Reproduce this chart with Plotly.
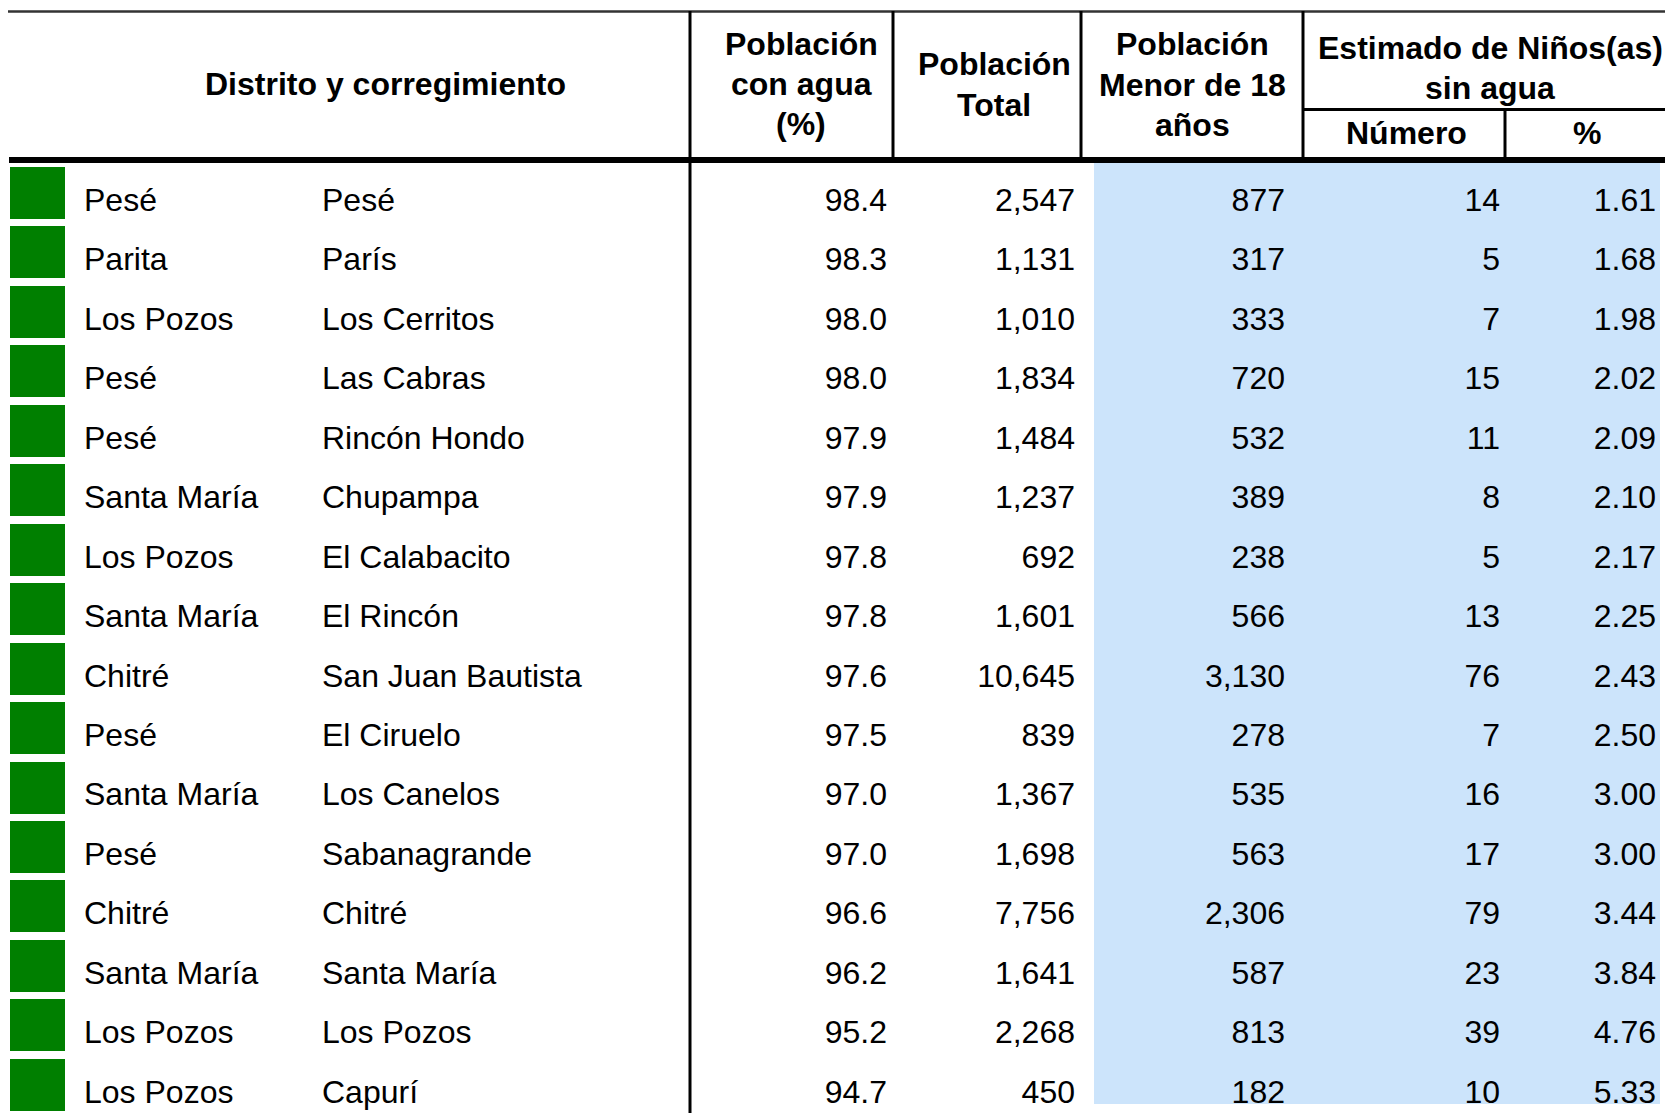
import plotly.graph_objects as go

# ---------------- data ----------------
districts = ["Pesé", "Parita", "Los Pozos", "Pesé", "Pesé", "Santa María", "Los Pozos",
             "Santa María", "Chitré", "Pesé", "Santa María", "Pesé", "Chitré",
             "Santa María", "Los Pozos", "Los Pozos"]
corregimientos = ["Pesé", "París", "Los Cerritos", "Las Cabras", "Rincón Hondo", "Chupampa",
                  "El Calabacito", "El Rincón", "San Juan Bautista", "El Ciruelo",
                  "Los Canelos", "Sabanagrande", "Chitré", "Santa María", "Los Pozos", "Capurí"]
pct_con_agua = [98.4, 98.3, 98.0, 98.0, 97.9, 97.9, 97.8, 97.8, 97.6, 97.5, 97.0, 97.0,
                96.6, 96.2, 95.2, 94.7]
poblacion_total = [2547, 1131, 1010, 1834, 1484, 1237, 692, 1601, 10645, 839, 1367, 1698,
                   7756, 1641, 2268, 450]
poblacion_menor18 = [877, 317, 333, 720, 532, 389, 238, 566, 3130, 278, 535, 563, 2306,
                     587, 813, 182]
sin_agua_numero = [14, 5, 7, 15, 11, 8, 5, 13, 76, 7, 16, 17, 79, 23, 39, 10]
sin_agua_pct = [1.61, 1.68, 1.98, 2.02, 2.09, 2.10, 2.17, 2.25, 2.43, 2.50, 3.00, 3.00,
                3.44, 3.84, 4.76, 5.33]

header_main = "Distrito y corregimiento"
header_cols = [["Población", "con agua", "(%)"],
               ["Población", "Total"],
               ["Población", "Menor de 18", "años"],
               ["Estimado de Niños(as)", "sin agua"]]
header_sub = ["Número", "%"]

# ---------------- layout geometry (page pixels; body margin is 8px) ----------------
PAGE_W, PAGE_H = 1673, 1113
M = 8
W, H = PAGE_W - M, PAGE_H - M
FS = 32
ROW0 = 199.5 + 0.108 * FS   # text anchor so that cap-centre sits at 199.5
PITCH = 59.45
FONT = "Liberation Sans, Arial, sans-serif"
GREEN = "#007f00"
BLUE = "#cce4fb"
SQ_H = 52 / PITCH
SQ_SHIFT = (193 - ROW0) / PITCH

n = len(districts)
rows = list(range(n))
y_top = (M - ROW0) / PITCH
y_bot = (PAGE_H - ROW0) / PITCH


def py(p):
    """page pixel y (from top) -> paper y"""
    return 1 - (p - M) / H


fig = go.Figure()

# green squares
fig.add_trace(go.Bar(orientation="h", y=rows, x=[55] * n, base=10, width=SQ_H,
                     offset=SQ_SHIFT - SQ_H / 2,
                     marker=dict(color=GREEN, line=dict(width=0)), hoverinfo="skip",
                     showlegend=False))


def text_trace(xpix, values, pos):
    fig.add_trace(go.Scatter(x=[xpix] * n, y=rows, mode="text", text=values,
                             textposition=pos, cliponaxis=False,
                             textfont=dict(family=FONT, size=FS, color="black"),
                             hoverinfo="skip", showlegend=False))


text_trace(84, districts, "middle right")
text_trace(322, corregimientos, "middle right")
text_trace(887, [f"{v:.1f}" for v in pct_con_agua], "middle left")
text_trace(1075, [f"{v:,}" for v in poblacion_total], "middle left")
text_trace(1285, [f"{v:,}" for v in poblacion_menor18], "middle left")
text_trace(1500, [f"{v:,}" for v in sin_agua_numero], "middle left")
text_trace(1656, [f"{v:.2f}" for v in sin_agua_pct], "middle left")

shapes = []
# blue background
shapes.append(dict(type="rect", xref="x", yref="paper", x0=1094, x1=1660, y0=py(162),
                   y1=py(1104), fillcolor=BLUE, line=dict(width=0), layer="below"))
LINE = "black"
# top rule
shapes.append(dict(type="line", xref="x", yref="paper", x0=8, x1=PAGE_W, y0=py(11.5), y1=py(11.5),
                   line=dict(color="#333333", width=2.5)))
# header bottom thick rule
shapes.append(dict(type="line", xref="x", yref="paper", x0=9, x1=PAGE_W, y0=py(160), y1=py(160),
                   line=dict(color=LINE, width=6)))
# vertical separators
shapes.append(dict(type="line", xref="x", yref="paper", x0=690, x1=690, y0=py(11), y1=py(PAGE_H),
                   line=dict(color=LINE, width=3)))
for xv in (893, 1081, 1303):
    shapes.append(dict(type="line", xref="x", yref="paper", x0=xv, x1=xv, y0=py(11), y1=py(160),
                       line=dict(color=LINE, width=3)))
shapes.append(dict(type="line", xref="x", yref="paper", x0=1303, x1=PAGE_W, y0=py(109.5),
                   y1=py(109.5), line=dict(color=LINE, width=3)))
shapes.append(dict(type="line", xref="x", yref="paper", x0=1505, x1=1505, y0=py(109.5), y1=py(160),
                   line=dict(color=LINE, width=3)))

annotations = []


def hdr(txt, x, y):
    annotations.append(dict(text=f"<b>{txt}</b>", x=x, y=py(y), xref="x", yref="paper",
                            xanchor="center", yanchor="middle", showarrow=False,
                            font=dict(family=FONT, size=FS, color="black")))


hdr(header_main, 385, 84)
col_x = [801, 994, 1192, 1490]
col_y = [[44, 84.5, 124], [64, 105], [44, 85, 125], [48, 88]]
for lines, cx, ys in zip(header_cols, col_x, col_y):
    for t, yy in zip(lines, ys):
        hdr(t, cx, yy)
hdr(header_sub[0], 1406, 133)
hdr(header_sub[1], 1587, 133)

fig.update_layout(
    width=W, height=H, margin=dict(l=0, r=0, t=0, b=0),
    paper_bgcolor="white", plot_bgcolor="white",
    xaxis=dict(range=[M, PAGE_W], visible=False, fixedrange=True),
    yaxis=dict(range=[y_bot, y_top], visible=False, fixedrange=True),
    shapes=shapes, annotations=annotations, bargap=0,
)

fig.write_html("out.html")
